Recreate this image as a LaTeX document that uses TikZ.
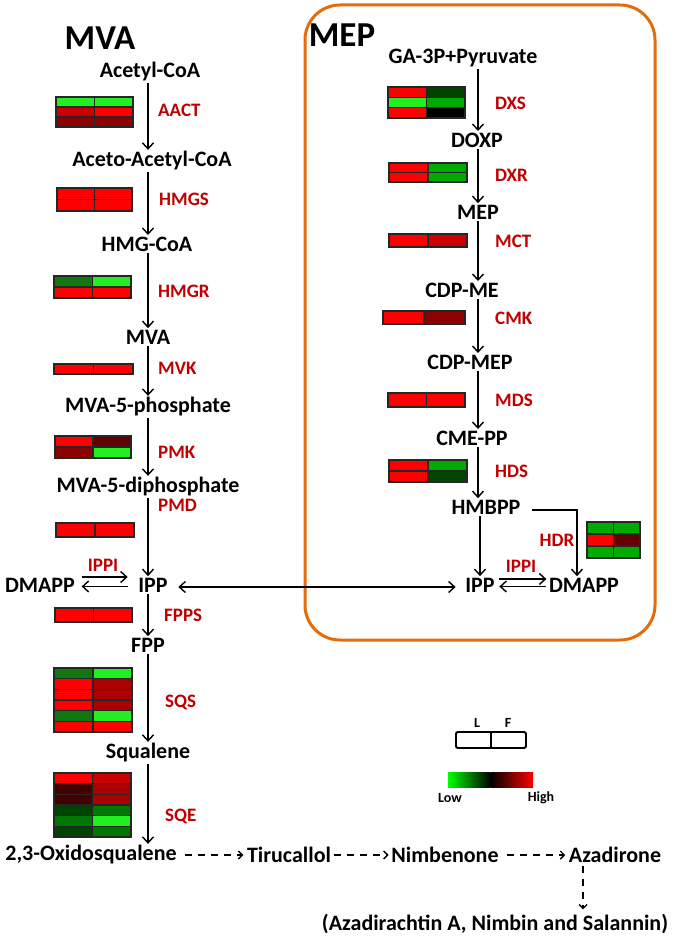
\documentclass[tikz,border=0pt]{standalone}
\usepackage{fontspec}
\setmainfont{Carlito}
\usetikzlibrary{arrows.meta}
\definecolor{enzred}{HTML}{C00000}
\definecolor{boxorange}{HTML}{E46C0A}
\definecolor{Rb}{HTML}{FF0000}
\definecolor{R1}{HTML}{CC0000}
\definecolor{R2}{HTML}{AA0000}
\definecolor{R3}{HTML}{8B0000}
\definecolor{R4}{HTML}{660000}
\definecolor{R5}{HTML}{440000}
\definecolor{G0}{HTML}{22EE22}
\definecolor{G1}{HTML}{00AA00}
\definecolor{G2}{HTML}{117711}
\definecolor{G3}{HTML}{004400}
\definecolor{G4}{HTML}{007700}
\definecolor{K}{HTML}{000000}
\newcommand\hmap[6]{%
 \pgfmathsetmacro\hmrh{(#4-#2)/#5}%
 \pgfmathsetmacro\hmxm{(#1+#3)/2}%
 \foreach \ca/\cb [count=\hmi] in {#6}{%
  \pgfmathsetmacro\hmya{#2+(\hmi-1)*\hmrh}%
  \pgfmathsetmacro\hmyb{\hmya+\hmrh}%
  \fill[\ca] (#1,\hmya) rectangle (\hmxm,\hmyb);
  \fill[\cb] (\hmxm,\hmya) rectangle (#3,\hmyb);
  \draw[cellline] (#1,\hmya) rectangle (#3,\hmyb);
 }%
 \draw[cellline] (\hmxm,#2) -- (\hmxm,#4);
}
\begin{document}
\begin{tikzpicture}[x=1pt,y=-1pt,
  met/.style={font=\fontsize{22}{25}\selectfont\bfseries, inner sep=1.5pt},
  ttl/.style={font=\fontsize{35}{38}\selectfont\bfseries, inner sep=0pt},
  enz/.style={font=\fontsize{19}{22}\selectfont\bfseries, text=enzred, inner sep=0pt, anchor=west},
  enzc/.style={font=\fontsize{19}{22}\selectfont\bfseries, text=enzred, inner sep=0pt},
  leg/.style={font=\fontsize{14}{16}\selectfont\bfseries, inner sep=0pt},
  arr/.style={-{Straight Barb[length=6pt,width=11pt]}, line width=1.4pt},
  darr/.style={{Straight Barb[length=6pt,width=11pt]}-{Straight Barb[length=6pt,width=11pt]}, line width=1.4pt},
  dasharr/.style={-{Straight Barb[length=4pt,width=8pt]}, line width=1.4pt, dash pattern=on 7pt off 6pt},
  cellline/.style={draw=black!85, line width=1.1pt}]
\useasboundingbox (0,0) rectangle (675,942);

% MEP box
\draw[boxorange, line width=3pt, rounded corners=35pt] (305,5) rectangle (655,640);

% titles
\node[ttl] (mvaT) at (100,38) {MVA};
\node[ttl] (mepT) at (342,35) {MEP};

% MVA pathway
\node[met] (acetyl) at (150,72) {Acetyl-CoA};
\node[met] (aceto) at (152,161) {Aceto-Acetyl-CoA};
\node[met] (hmgcoa) at (147,244) {HMG-CoA};
\node[met] (mva) at (148,337) {MVA};
\node[met] (mvap) at (148,407) {MVA-5-phosphate};
\node[met] (mvapp) at (148,487) {MVA-5-diphosphate};
\node[met] (ippL) at (153,585) {IPP};
\node[met] (dmappL) at (40,585) {DMAPP};
\node[met] (fpp) at (148,645) {FPP};
\node[met] (squal) at (148,753) {Squalene};
\node[met] (oxido) at (91,855) {2,3-Oxidosqualene};
\node[met] (tiru) at (289,855) {Tirucallol};
\node[met] (nimb) at (445,855) {Nimbenone};
\node[met] (azad) at (615,855) {Azadirone};
\node[met] (final) at (495,924) {(Azadirachtin A, Nimbin and Salannin)};

% MEP pathway
\node[met] (ga3p) at (463,58) {GA-3P+Pyruvate};
\node[met] (doxp) at (477,140) {DOXP};
\node[met] (mep) at (478,212) {MEP};
\node[met] (cdpme) at (462,290) {CDP-ME};
\node[met] (cdpmep) at (470,362) {CDP-MEP};
\node[met] (cmepp) at (472,438) {CME-PP};
\node[met] (hmbpp) at (486,507) {HMBPP};
\node[met] (ippR) at (480,585) {IPP};
\node[met] (dmappR) at (584,585) {DMAPP};

\coordinate (L) at (148,0);
\coordinate (R) at (478,0);
\coordinate (AZ) at (583,0);

% left vertical arrows
\draw[arr] (acetyl.south -| L) -- (aceto.north -| L);
\draw[arr] (aceto.south -| L) -- (hmgcoa.north -| L);
\draw[arr] (hmgcoa.south -| L) -- (mva.north -| L);
\draw[arr] (mva.south -| L) -- (mvap.north -| L);
\draw[arr] (mvap.south -| L) -- (mvapp.north -| L);
\draw[arr] (mvapp.south -| L) -- (ippL.north -| L);
\draw[arr] (ippL.south -| L) -- (fpp.north -| L);
\draw[arr] (fpp.south -| L) -- (squal.north -| L);
\draw[arr] (squal.south -| L) -- (oxido.north -| L);

% right vertical arrows
\draw[arr] (ga3p.south -| R) -- (doxp.north -| R);
\draw[arr] (doxp.south -| R) -- (mep.north -| R);
\draw[arr] (mep.south -| R) -- (cdpme.north -| R);
\draw[arr] (cdpme.south -| R) -- (cdpmep.north -| R);
\draw[arr] (cdpmep.south -| R) -- (cmepp.north -| R);
\draw[arr] (cmepp.south -| R) -- (hmbpp.north -| R);
\draw[arr] (hmbpp.south -| ippR) -- (ippR.north);
\draw[arr] ([xshift=10pt,yshift=-3pt]hmbpp.east) -| ([xshift=-7pt]dmappR.north);

% IPP / DMAPP isomerase arrows
\draw[arr, shorten <=5pt, shorten >=9pt] ([yshift=8pt]dmappL.east) -- ([yshift=8pt]ippL.west);
\draw[arr, shorten <=9pt, shorten >=5pt] ([yshift=-1.5pt]ippL.west) -- ([yshift=-1.5pt]dmappL.east);
\draw[arr, shorten <=3pt, shorten >=1pt] ([yshift=6pt]ippR.east) -- ([yshift=6pt]dmappR.west);
\draw[arr, shorten <=1pt, shorten >=3pt] ([yshift=-1.5pt]dmappR.west) -- ([yshift=-1.5pt]ippR.east);
\draw[darr, shorten <=9pt, shorten >=8pt] ([yshift=-2pt]ippL.east) -- ([yshift=-2pt]ippR.west);

% downstream dashed
\draw[dasharr, shorten <=7pt, shorten >=2pt] (oxido.east) -- (tiru.west);
\draw[dasharr, shorten <=1pt, shorten >=1pt] (tiru.east) -- (nimb.west);
\draw[dasharr, shorten <=7pt, shorten >=2pt] (nimb.east) -- (azad.west);
\draw[dasharr, shorten <=1pt, shorten >=3pt] (azad.south -| AZ) -- (final.north -| AZ);

% enzyme labels
\node[enz] (aact) at (158,110) {AACT};
\node[enz] (hmgs) at (159,199) {HMGS};
\node[enz] (hmgr) at (158,291) {HMGR};
\node[enz] (mvk) at (158,368) {MVK};
\node[enz] (pmk) at (158,452) {PMK};
\node[enz] (pmd) at (158,505) {PMD};
\node[enzc] (ippiL) at (103,565) {IPPI};
\node[enz] (fpps) at (164,615) {FPPS};
\node[enz] (sqs) at (165,702) {SQS};
\node[enz] (sqe) at (165,816) {SQE};
\node[enz] (dxs) at (495,103) {DXS};
\node[enz] (dxr) at (495,175) {DXR};
\node[enz] (mct) at (495,241) {MCT};
\node[enz] (cmk) at (495,318) {CMK};
\node[enz] (mds) at (495,400) {MDS};
\node[enz] (hds) at (495,471) {HDS};
\node[enzc] (hdr) at (557,540) {HDR};
\node[enzc] (ippiR) at (521,566) {IPPI};

% heatmaps (L / F)
\hmap{56}{97}{133}{127}{3}{G0/G0,R1/Rb,R3/R3}
\hmap{57}{188}{132}{211}{2}{Rb/Rb,Rb/Rb}
\hmap{54}{276}{131}{298}{2}{G2/G0,Rb/Rb}
\hmap{54}{364}{133}{374}{1}{Rb/Rb}
\hmap{55}{436}{131}{458}{2}{Rb/R4,R3/G0}
\hmap{56}{523}{134}{537}{1}{Rb/Rb}
\hmap{55}{608}{132}{622}{1}{Rb/Rb}
\hmap{54}{668}{132}{732}{6}{G2/G0,Rb/R2,Rb/R2,Rb/R2,G2/G0,Rb/Rb}
\hmap{54}{773}{131}{837}{6}{Rb/R1,R5/R2,R5/R2,G3/G4,G4/G0,G3/G4}
\hmap{388}{87}{465}{118}{3}{Rb/G3,G0/G1,Rb/K}
\hmap{389}{163}{467}{182}{2}{Rb/G1,Rb/G1}
\hmap{389}{234}{467}{247}{1}{Rb/R1}
\hmap{383}{311}{465}{324}{1}{Rb/R3}
\hmap{388}{393}{465}{407}{1}{Rb/Rb}
\hmap{389}{460}{467}{482}{2}{Rb/G1,Rb/G3}
\hmap{587}{522}{640}{558}{3}{G1/G1,Rb/R4,G1/G1}

% legend
\draw[line width=1.8pt, rounded corners=1.5pt] (456,732) rectangle (526,748);
\draw[line width=1.8pt] (491,732) -- (491,748);
\node[leg] (legL) at (477,723) {L};
\node[leg] (legF) at (508,723) {F};
\shade[left color=green, right color=black] (448,772) rectangle (490.5,787);
\shade[left color=black, right color=red] (490.5,772) rectangle (533,787);
\node[leg] (low) at (450,798) {Low};
\node[leg] (high) at (541,798) {High};
\end{tikzpicture}
\end{document}
